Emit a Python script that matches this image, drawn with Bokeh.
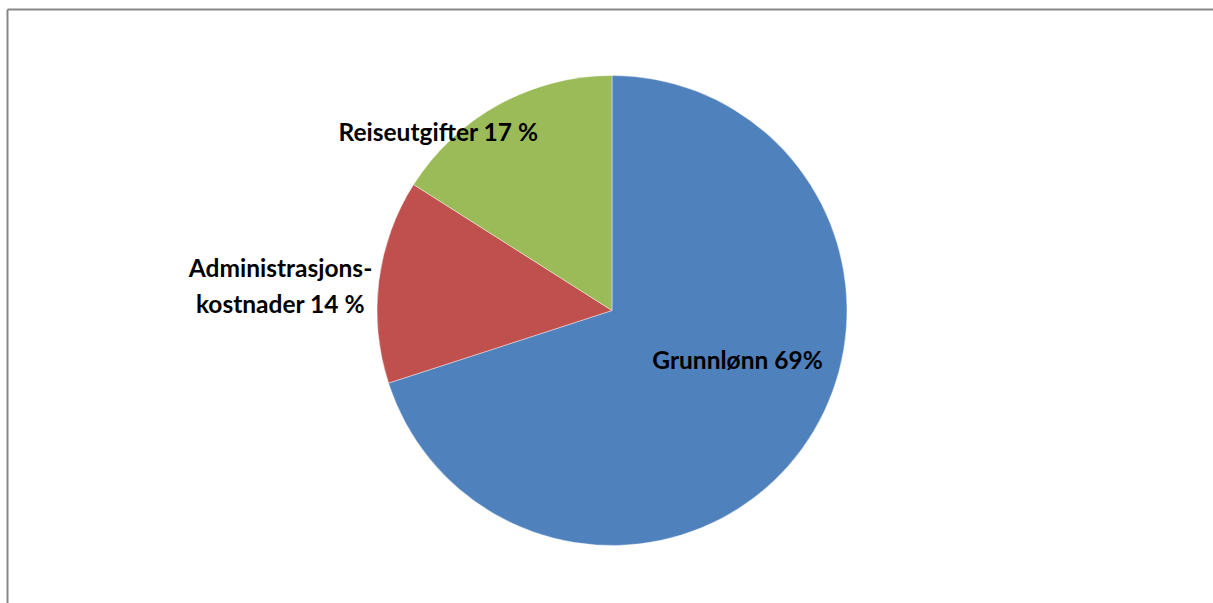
import numpy as np
from bokeh.plotting import figure
from bokeh.models import Range1d, ColumnDataSource
from bokeh.core.properties import value
from bokeh.embed import file_html
from bokeh.resources import INLINE

# Data
categories = ["Grunnlønn", "Administrasjonskostnader", "Reiseutgifter"]
shares = [70, 14, 16]  # slice sizes as drawn
labels = ["Grunnlønn 69%", "Administrasjons-\nkostnader 14 %", "Reiseutgifter 17 %"]
colors = ["#4F81BD", "#C0504D", "#9BBB59"]

W, H = 1213, 603
p = figure(width=W, height=H, output_backend="svg", toolbar_location=None,
           x_range=Range1d(0, W), y_range=Range1d(0, H), min_border=0,
           outline_line_color=None)
p.axis.visible = False
p.grid.visible = False
p.background_fill_color = "white"
p.border_fill_color = "white"

# border (top and left visible)
p.segment(x0=[7, 7], y0=[H - 9, H - 9], x1=[W + 5, 7], y1=[H - 9, -5],
          line_color="#878787", line_width=2)

cx, cy, r = 611.5, H - 310, 235
frac = np.array(shares, dtype=float) / sum(shares)
cum = np.concatenate([[0], np.cumsum(frac)])
start = np.pi / 2 - 2 * np.pi * cum[:-1]
end = np.pi / 2 - 2 * np.pi * cum[1:]
src = ColumnDataSource(dict(start=start, end=end, color=colors))
p.wedge(x=cx, y=cy, radius=r, start_angle="start", end_angle="end",
        direction="clock", fill_color="color", line_color="white",
        line_width=0.4, source=src)

# labels
lx = [737, 280, 438]
ly = [H - 359, H - 285, H - 131]
p.text(x=lx, y=ly, text=labels, text_font=value("Lato"), text_font_style="bold",
       text_font_size="24.5px", text_align="center", text_baseline="middle",
       text_color="black", text_line_height=1.27)

open("out.html", "w").write(file_html(p, INLINE))
